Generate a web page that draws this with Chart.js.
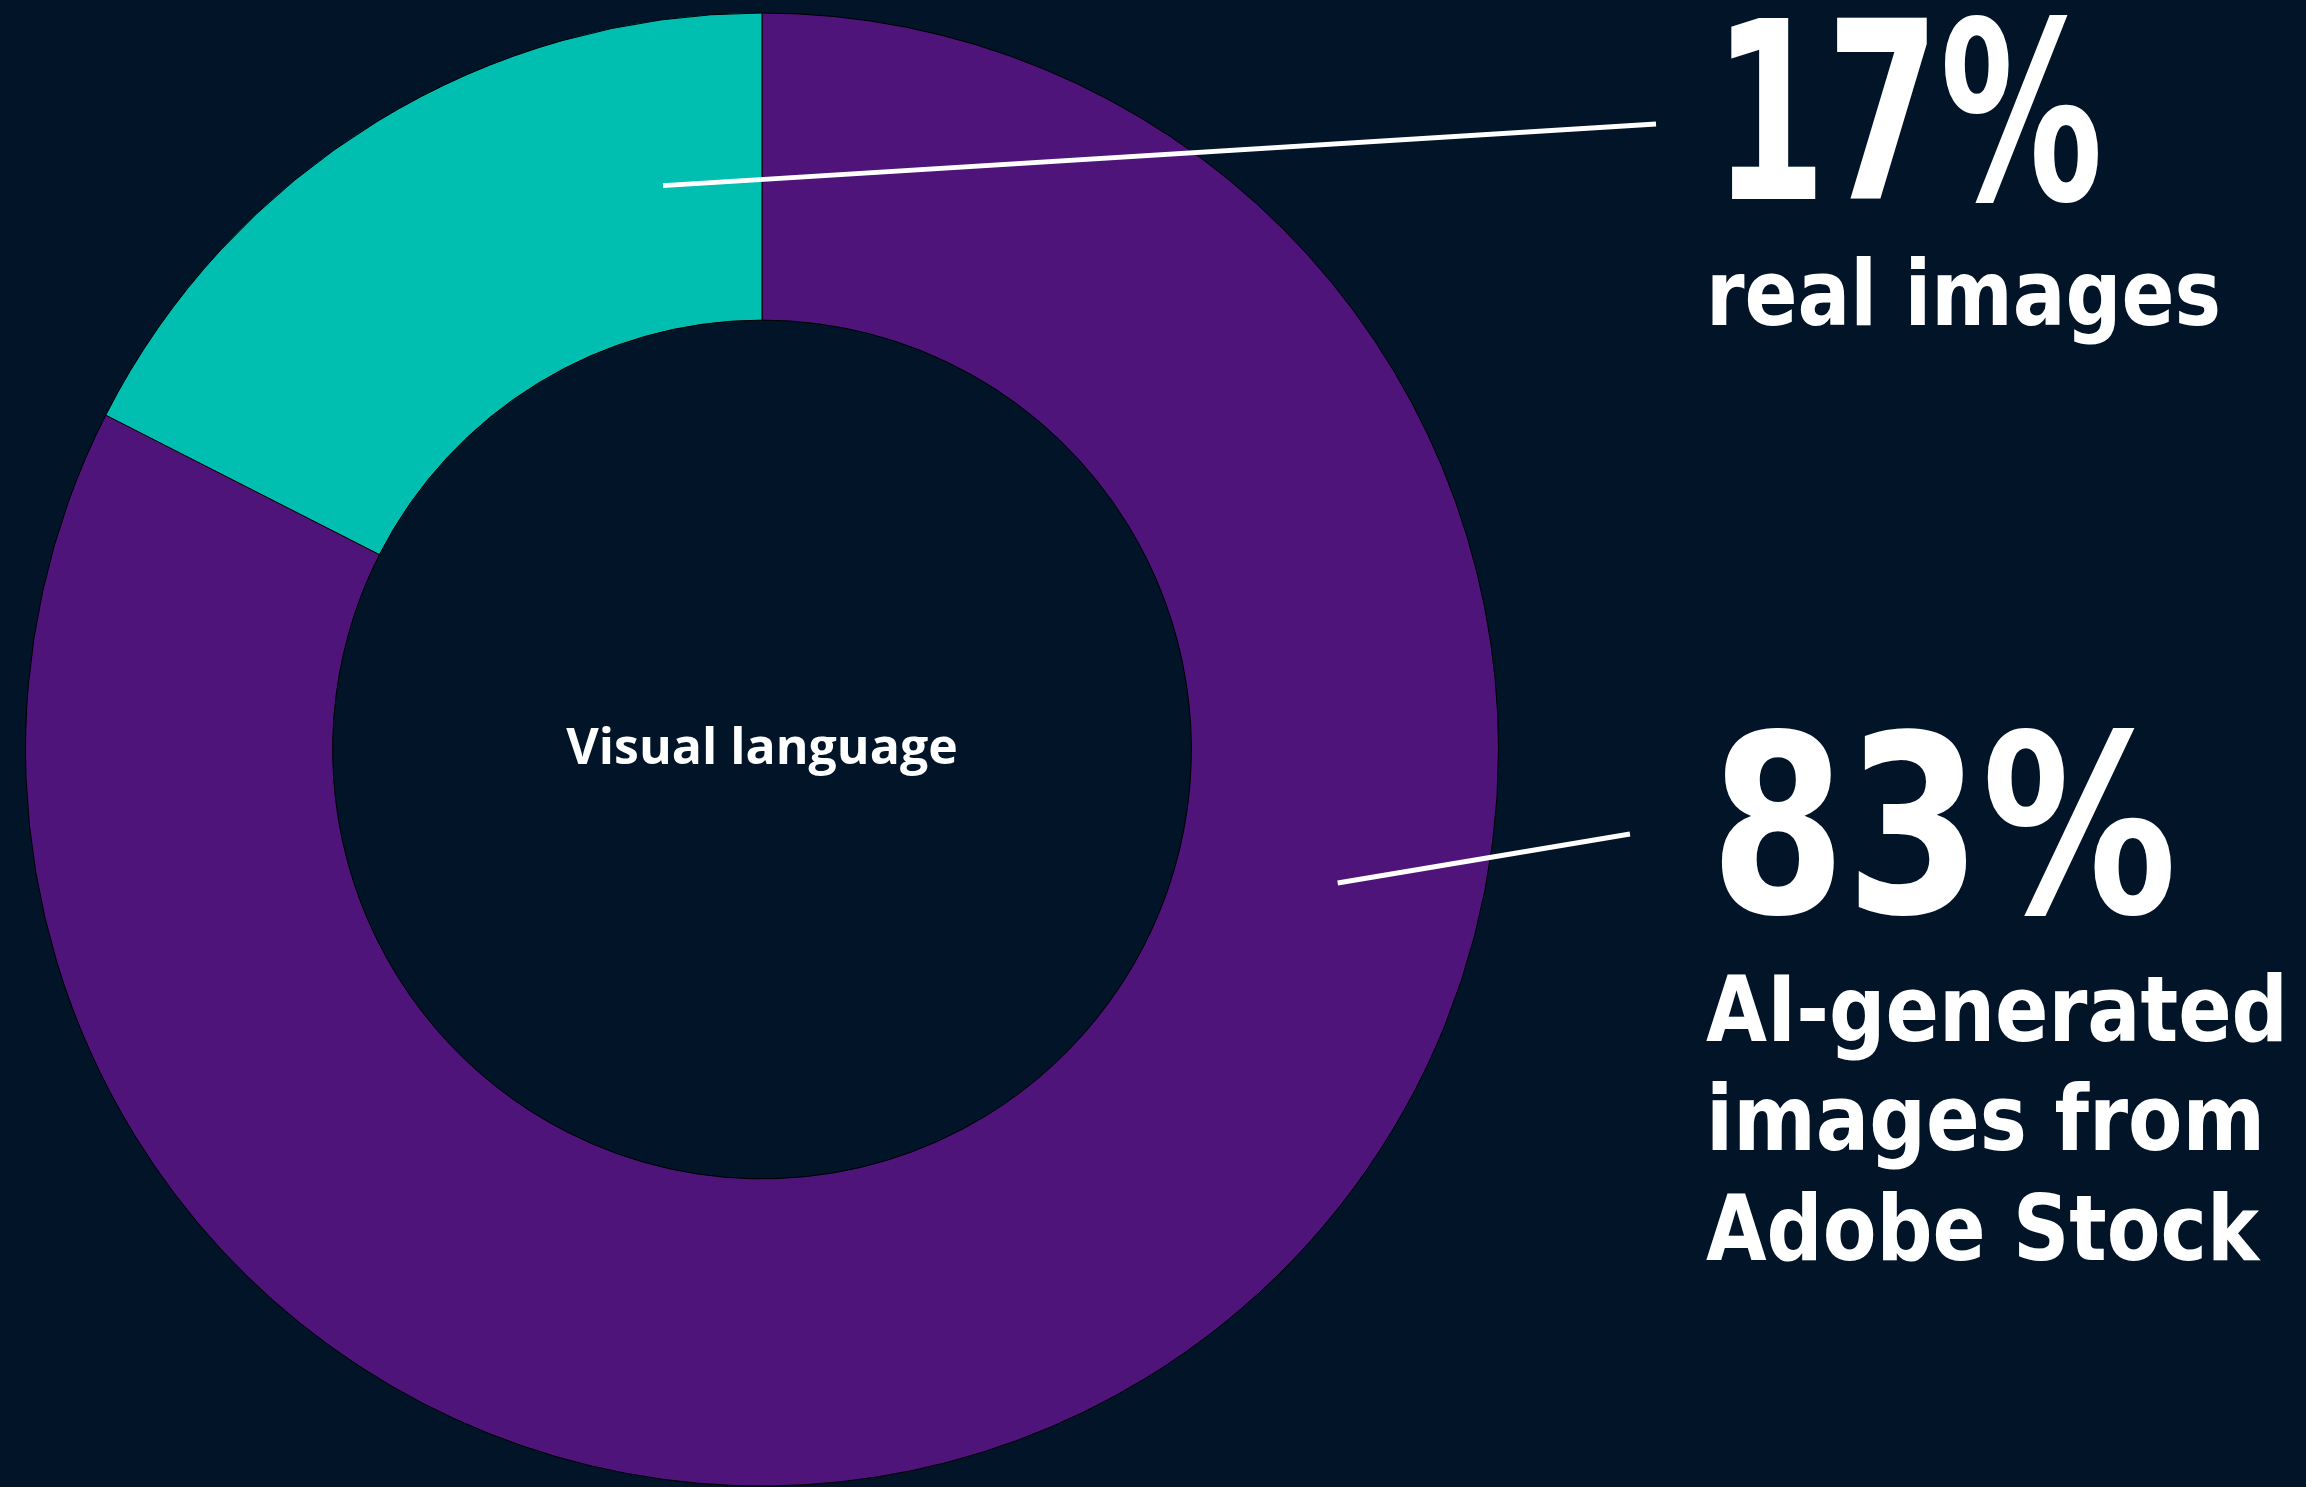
<!DOCTYPE html>
<html>
<head>
<meta charset="utf-8">
<script src="https://cdn.jsdelivr.net/npm/chart.js@4"></script>
<style>
  html, body { margin: 0; padding: 0; background: #011428; overflow: hidden; }
  #wrap { position: relative; width: 2306px; height: 1487px; }
</style>
</head>
<body>
<div id="wrap"><canvas id="chart"></canvas></div>
<script>
"use strict";

// 資料
const LABELS = ["AI-generated images from Adobe Stock", "real images"];
const VALUES = [82.5, 17.5];
const COLORS = ["#4e1479", "#00bfb0"];
const CENTER_TEXT = "Visual language";
const PCT_TEXT = ["83%", "17%"];
const CAPTIONS = [["AI-generated", "images from", "Adobe Stock"], ["real images"]];

// 版面（純粹排版用，不是資料）
const BIG_FONT = "bold 248px 'DejaVu Sans'";
const CAP_FONT = "bold 90px 'DejaVu Sans'";
const CALLOUTS = [
  // index, 起點在扇形上的角度比例 / 半徑比例, 終點, 文字位置
  { index: 1, frac: 0.842, rFrac: 0.466, to: [1656, 124],
    pct: { x: 1713, y: 199, w: 390 },
    lines: [{ x: 1706, y: 325, w: 515 }] },
  { index: 0, frac: 0.347, rFrac: 0.526, to: [1630, 834],
    pct: { x: 1710, y: 912, w: 467 },
    lines: [{ x: 1706, y: 1041, w: 582 }, { x: 1706, y: 1150, w: 559 }, { x: 1706, y: 1260, w: 553 }] },
];

const calloutPlugin = {
  id: "callouts",
  afterDraw(chart) {
    const ctx = chart.ctx;
    const meta = chart.getDatasetMeta(0);
    ctx.save();

    // 中心文字
    const a0 = meta.data[0];
    ctx.fillStyle = "#ffffff";
    ctx.font = "bold 50px 'Open Sans'";
    ctx.textAlign = "center";
    ctx.textBaseline = "middle";
    ctx.fillText(CENTER_TEXT, a0.x, a0.y);

    ctx.textAlign = "left";
    ctx.textBaseline = "alphabetic";
    for (const c of CALLOUTS) {
      const arc = meta.data[c.index];
      const ang = arc.startAngle + c.frac * (arc.endAngle - arc.startAngle);
      const r = arc.innerRadius + c.rFrac * (arc.outerRadius - arc.innerRadius);
      const sx = arc.x + r * Math.cos(ang);
      const sy = arc.y + r * Math.sin(ang);

      ctx.strokeStyle = "#ffffff";
      ctx.lineWidth = 5;
      ctx.beginPath();
      ctx.moveTo(sx, sy);
      ctx.lineTo(c.to[0], c.to[1]);
      ctx.stroke();

      ctx.font = BIG_FONT;
      ctx.fillText(PCT_TEXT[c.index], c.pct.x, c.pct.y, c.pct.w);
      ctx.font = CAP_FONT;
      CAPTIONS[c.index].forEach((t, i) => {
        const L = c.lines[i];
        ctx.fillText(t, L.x, L.y, L.w);
      });
    }
    ctx.restore();
  },
};

Chart.defaults.font.family = "'Open Sans', sans-serif";

new Chart(document.getElementById("chart"), {
  type: "doughnut",
  data: {
    labels: LABELS,
    datasets: [{
      data: VALUES,
      backgroundColor: COLORS,
      borderColor: "#000000",
      borderWidth: 1,
      hoverOffset: 0,
    }],
  },
  options: {
    responsive: true,
    maintainAspectRatio: false,
    animation: false,
    cutout: "58.3%",
    layout: { padding: { left: 25, top: 12, right: 807, bottom: 0 } },
    plugins: {
      legend: { display: false },
      tooltip: { enabled: false },
    },
  },
  plugins: [calloutPlugin],
});
</script>
</body>
</html>
